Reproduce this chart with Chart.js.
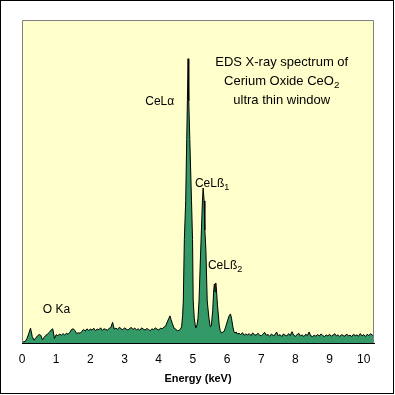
<!DOCTYPE html>
<html lang="en">
  <head>
    <meta charset="UTF-8" />
    <title>EDS spectrum CeO2</title>
    <script src="https://cdn.jsdelivr.net/npm/chart.js"></script>
    <style>
      body {
        margin: 0;
        background: #ffffff;
      }
      .frame {
        position: relative;
        width: 395px;
        height: 395px;
      }
      .edge {
        position: absolute;
        left: 0;
        top: 0;
        width: 394px;
        height: 394px;
        box-sizing: border-box;
        border: 1px solid #000;
        pointer-events: none;
      }
    </style>
  </head>
  <body>
    <div class="frame">
      <canvas id="spectrum"></canvas>
      <div class="edge"></div>
    </div>

    <script>
      // energy (keV) and counts (% of the plot height)
      const energy = [
        0.00, 0.05, 0.10, 0.15, 0.20, 0.25, 0.30, 0.35, 0.40, 0.45,
        0.50, 0.55, 0.60, 0.65, 0.70, 0.75, 0.80, 0.85, 0.90, 0.95,
        1.00, 1.05, 1.10, 1.15, 1.20, 1.25, 1.30, 1.35, 1.40, 1.45,
        1.50, 1.55, 1.60, 1.65, 1.70, 1.75, 1.80, 1.85, 1.90, 1.95,
        2.00, 2.05, 2.10, 2.15, 2.20, 2.25, 2.30, 2.35, 2.40, 2.45,
        2.50, 2.55, 2.60, 2.65, 2.70, 2.75, 2.80, 2.85, 2.90, 2.95,
        3.00, 3.05, 3.10, 3.15, 3.20, 3.25, 3.30, 3.35, 3.40, 3.45,
        3.50, 3.55, 3.60, 3.65, 3.70, 3.75, 3.80, 3.85, 3.90, 3.95,
        4.00, 4.05, 4.10, 4.15, 4.20, 4.25, 4.30, 4.33, 4.36, 4.40,
        4.45, 4.50, 4.55, 4.60, 4.64, 4.67, 4.70, 4.72, 4.75, 4.79,
        4.82, 4.84, 4.86, 4.88, 4.91, 4.96, 4.99, 5.01, 5.04, 5.07,
        5.09, 5.12, 5.15, 5.18, 5.22, 5.25, 5.28, 5.30, 5.33, 5.35,
        5.38, 5.42, 5.47, 5.51, 5.54, 5.58, 5.61, 5.63, 5.65, 5.67,
        5.69, 5.72, 5.77, 5.80, 5.84, 5.88, 5.92, 5.96, 6.02, 6.06,
        6.10, 6.13, 6.17, 6.20, 6.23, 6.27, 6.30, 6.35, 6.40, 6.45,
        6.50, 6.55, 6.60, 6.65, 6.70, 6.75, 6.80, 6.85, 6.90, 6.95,
        7.00, 7.05, 7.10, 7.15, 7.20, 7.25, 7.30, 7.35, 7.40, 7.45,
        7.50, 7.55, 7.60, 7.65, 7.70, 7.75, 7.80, 7.85, 7.90, 7.95,
        8.00, 8.05, 8.10, 8.15, 8.20, 8.25, 8.30, 8.35, 8.40, 8.45,
        8.50, 8.55, 8.60, 8.65, 8.70, 8.75, 8.80, 8.85, 8.90, 8.95,
        9.00, 9.05, 9.10, 9.15, 9.20, 9.25, 9.30, 9.35, 9.40, 9.45,
        9.50, 9.55, 9.60, 9.65, 9.70, 9.75, 9.80, 9.85, 9.90, 9.95,
        10.00, 10.05, 10.10, 10.15, 10.20, 10.25, 10.30
      ];
      const counts = [
        0.3, 0.4, 0.5, 1.5, 3.0, 4.6, 2.0, 0.9, 1.5, 2.2,
        2.6, 2.4, 1.0, 1.8, 2.4, 2.8, 3.3, 4.0, 4.4, 1.4,
        2.6, 2.2, 2.8, 2.4, 2.9, 2.5, 3.0, 2.7, 3.3, 4.2,
        4.4, 3.8, 2.9, 3.2, 3.0, 3.6, 4.2, 3.7, 4.4, 3.9,
        4.3, 4.0, 4.6, 3.8, 4.3, 4.1, 4.7, 3.9, 4.4, 4.2,
        4.0, 4.5, 4.8, 6.4, 4.3, 4.6, 4.2, 4.9, 4.4, 4.1,
        4.7, 4.3, 4.0, 4.5, 4.8, 4.2, 4.6, 4.1, 4.4, 3.9,
        4.7, 4.3, 4.0, 4.5, 4.2, 3.8, 4.4, 4.1, 4.7, 4.3,
        4.0, 4.6, 4.4, 4.9, 5.2, 6.5, 7.7, 8.4, 7.3, 6.0,
        4.6, 4.3, 3.7, 4.0, 4.4, 5.0, 8.5, 13, 32, 44,
        63, 75, 88, 75, 63, 44, 32, 13, 7.7, 5.4,
        4.8, 5.5, 7.7, 13, 26, 35, 44, 48, 44, 35,
        29, 13, 7.7, 5.0, 5.3, 10, 16.4, 18.3, 15.8, 18.6,
        16.4, 11.8, 5.6, 3.8, 3.1, 3.4, 3.7, 5.0, 7.1, 8.4,
        9.0, 7.7, 5.0, 3.6, 3.1, 3.4, 2.8, 3.0, 2.6, 3.2,
        2.4, 2.8, 2.5, 2.9, 2.3, 3.1, 2.6, 2.4, 3.0, 2.5,
        2.2, 2.7, 3.3, 2.4, 2.6, 2.1, 2.8, 2.3, 2.5, 3.4,
        2.2, 2.6, 2.0, 2.8, 2.4, 2.2, 2.9, 2.3, 3.5, 2.4,
        2.1, 2.6, 3.0, 2.2, 2.5, 2.0, 2.7, 2.3, 3.4, 2.2,
        2.0, 2.4, 2.1, 2.6, 2.2, 2.8, 2.3, 2.0, 2.5, 2.2,
        2.7, 2.1, 2.4, 2.9, 2.2, 2.5, 2.0, 2.6, 2.3, 2.1,
        2.8, 2.2, 2.4, 2.0, 2.7, 2.3, 2.5, 2.1, 2.9, 2.2,
        2.6, 2.0, 2.7, 2.3, 2.9, 2.4, 2.5
      ];
      const tickValues = [0, 1, 2, 3, 4, 5, 6, 7, 8, 9, 10];
      const tickLabels = ["0", "1", "2", "3", "4", "5", "6", "7", "8", "9", "10"];

      // peak labels: text, subscript, anchor (keV, counts)
      const peakNotes = [
        { text: "CeLα", sub: "", x: 4.03, y: 74.6, align: "center" },
        { text: "CeLß", sub: "1", x: 5.06, y: 49.2, align: "left" },
        { text: "CeLß", sub: "2", x: 5.44, y: 23.8, align: "left" },
        { text: "O Ka", sub: "", x: 0.61, y: 10.2, align: "left" },
      ];
      const titleNotes = [
        { text: "EDS X-ray spectrum of", sub: "", x: 7.6, y: 87.0 },
        { text: "Cerium Oxide CeO", sub: "2", x: 7.6, y: 81.1 },
        { text: "ultra thin window", sub: "", x: 7.6, y: 75.2 },
      ];

      const FONT = "'Liberation Sans', Arial, sans-serif";

      function drawNote(ctx, note, px, py, size, align) {
        ctx.font = size + "px " + FONT;
        const w1 = ctx.measureText(note.text).width;
        ctx.font = size * 0.75 + "px " + FONT;
        const w2 = note.sub ? ctx.measureText(note.sub).width : 0;
        let left = px;
        if (align === "center") left = px - (w1 + w2) / 2;
        ctx.textBaseline = "middle";
        ctx.textAlign = "left";
        ctx.font = size + "px " + FONT;
        ctx.fillText(note.text, left, py);
        if (note.sub) {
          ctx.font = size * 0.75 + "px " + FONT;
          ctx.fillText(note.sub, left + w1, py + size * 0.3);
        }
      }

      const plotBox = {
        id: "plotBox",
        beforeDatasetsDraw(chart) {
          const { ctx, chartArea: a } = chart;
          ctx.save();
          ctx.fillStyle = "#ffffcc";
          ctx.fillRect(a.left, a.top, a.right - a.left, a.bottom - a.top);
          ctx.restore();
        },
        afterDatasetsDraw(chart) {
          const { ctx, chartArea: a } = chart;
          const xs = chart.scales.x;
          const ys = chart.scales.y;
          ctx.save();
          ctx.strokeStyle = "#808080";
          ctx.lineWidth = 1;
          ctx.beginPath();
          ctx.moveTo(a.left + 0.5, a.bottom);
          ctx.lineTo(a.left + 0.5, a.top + 0.5);
          ctx.lineTo(a.right - 0.5, a.top + 0.5);
          ctx.lineTo(a.right - 0.5, a.bottom);
          ctx.stroke();
          ctx.fillStyle = "#000";
          peakNotes.forEach((n) =>
            drawNote(ctx, n, xs.getPixelForValue(n.x), ys.getPixelForValue(n.y), 12, n.align)
          );
          titleNotes.forEach((n) =>
            drawNote(ctx, n, xs.getPixelForValue(n.x), ys.getPixelForValue(n.y), 13, "center")
          );
          ctx.restore();
        },
      };

      new Chart(document.getElementById("spectrum").getContext("2d"), {
        type: "line",
        data: {
          datasets: [
            {
              data: energy.map((e, i) => ({ x: e, y: counts[i] })),
              borderColor: "#000000",
              borderWidth: 1,
              backgroundColor: "#339966",
              fill: "origin",
              pointRadius: 0,
              tension: 0,
            },
          ],
        },
        options: {
          responsive: true,
          maintainAspectRatio: false,
          animation: false,
          layout: { padding: { left: 22, right: 21, top: 20, bottom: 0 } },
          plugins: { legend: { display: false }, tooltip: { enabled: false } },
          scales: {
            x: {
              type: "linear",
              min: 0,
              max: 10.3,
              afterBuildTicks: (axis) => {
                axis.ticks = tickValues.map((v) => ({ value: v }));
              },
              afterFit: (axis) => {
                axis.height = 52;
              },
              grid: { display: false, drawTicks: false },
              border: { color: "#000000", width: 1 },
              ticks: {
                color: "#000",
                padding: 9,
                maxRotation: 0,
                font: { family: FONT, size: 12 },
                callback: (v) => tickLabels[tickValues.indexOf(v)],
              },
              title: {
                display: true,
                text: "Energy (keV)",
                color: "#000",
                font: { family: FONT, size: 11, weight: "bold" },
                padding: { top: 0, bottom: 9 },
              },
            },
            y: { display: false, min: 0, max: 100 },
          },
        },
        plugins: [plotBox],
      });
    </script>
  </body>
</html>
